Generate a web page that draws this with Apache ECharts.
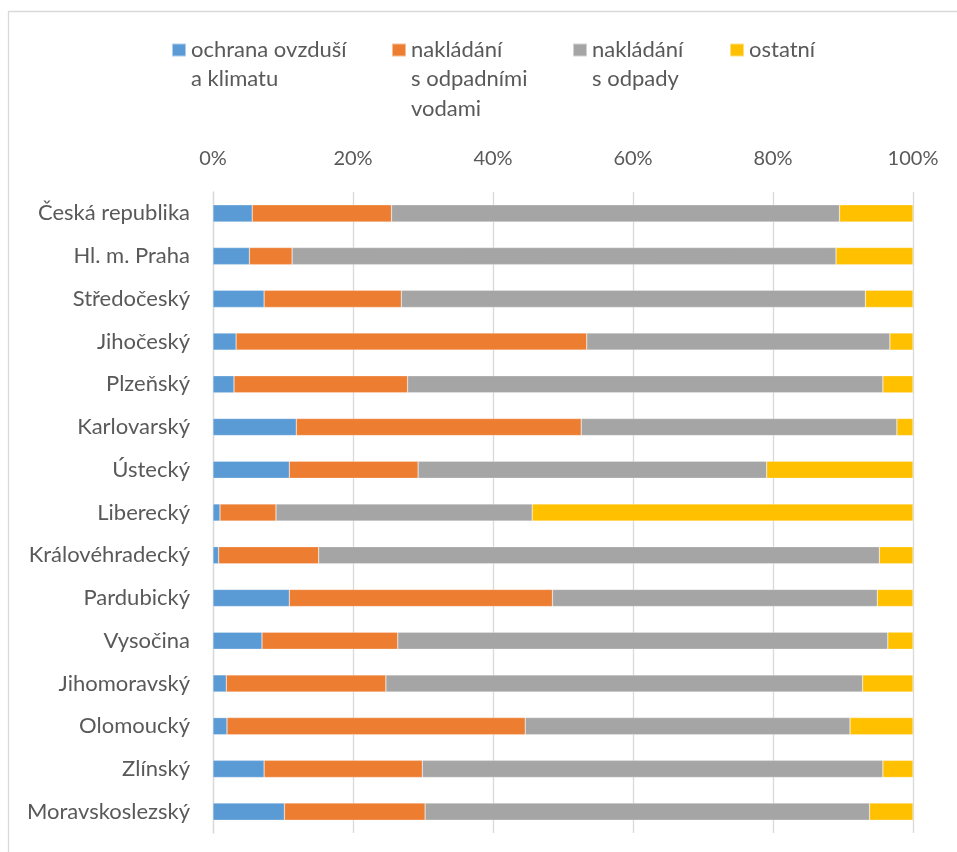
<!DOCTYPE html>
<html>
<head>
<meta charset="utf-8">
<script src="https://cdn.jsdelivr.net/npm/echarts@6/dist/echarts.min.js"></script>
<style>html,body{margin:0;padding:0;background:#fff}#c{width:957px;height:852px}</style>
</head>
<body>
<div id="c"></div>
<script>
const categories = ['Česká republika','Hl. m. Praha','Středočeský','Jihočeský','Plzeňský','Karlovarský','Ústecký','Liberecký','Královéhradecký','Pardubický','Vysočina','Jihomoravský','Olomoucký','Zlínský','Moravskoslezský'];
const seriesNames = ['ochrana ovzduší\na klimatu','nakládání\ns odpadními\nvodami','nakládání\ns odpady','ostatní'];
const ovzdusi = [5.6, 5.2, 7.3, 3.3, 3.0, 11.9, 10.9, 1.0, 0.8, 10.9, 7.0, 1.9, 2.0, 7.3, 10.2];
const vody    = [19.9, 6.1, 19.6, 50.1, 24.8, 40.7, 18.4, 8.0, 14.3, 37.6, 19.4, 22.8, 42.6, 22.6, 20.1];
const odpady  = [64.0, 77.7, 66.3, 43.3, 67.9, 45.1, 49.8, 36.6, 80.1, 46.4, 70.0, 68.1, 46.4, 65.8, 63.5];
const ostatni = [10.5, 11.0, 6.8, 3.3, 4.3, 2.3, 20.9, 54.4, 4.8, 5.1, 3.6, 7.2, 9.0, 4.3, 6.2];
const tickLabels = ['0%','20%','40%','60%','80%','100%'];
const colors = ['#5B9BD5','#ED7D31','#A5A5A5','#FFC000'];

const FONT = 'Lato';
const TXT = '#595959';
const values = [ovzdusi, vody, odpady, ostatni];

const legendLefts = [171, 391, 572, 729];
const LH = 29.3;
const ICON_CY = 50;
const legends = seriesNames.map((n, i) => {
  const lines = n.split('\n');
  const k = lines.length;
  const total = 2 * k - 1;
  return {
    data: [n],
    left: legendLefts[i],
    top: ICON_CY - total * LH / 2,
    padding: 0,
    itemWidth: 14,
    itemHeight: 13,
    icon: 'rect',
    selectedMode: false,
    formatter: () => {
      const spacer = [];
      for (let j = 0; j < k - 1; j++) spacer.push('{s| }');
      return spacer.concat(lines.map(l => '{t|' + l + '}')).join('\n');
    },
    textStyle: {
      fontFamily: FONT, fontSize: 22, color: TXT, lineHeight: LH,
      rich: {
        t: {fontFamily: FONT, fontSize: 22, color: TXT, lineHeight: LH},
        s: {fontFamily: FONT, fontSize: 22, color: TXT, lineHeight: LH}
      }
    }
  };
});

const chart = echarts.init(document.getElementById('c'));
chart.setOption({
  animation: false,
  backgroundColor: '#fff',
  graphic: [{
    type: 'rect', shape: {x: 8.5, y: 11.5, width: 1000, height: 1000},
    style: {fill: 'none', stroke: '#d9d9d9', lineWidth: 1.3}, silent: true, z: -1
  }],
  legend: legends,
  grid: {left: 213, right: 44, top: 192, bottom: 19, containLabel: false},
  xAxis: {
    type: 'value', position: 'top', min: 0, max: 100, interval: 20,
    axisLine: {show: false}, axisTick: {show: false},
    splitLine: {lineStyle: {color: '#d9d9d9', width: 1.3}},
    axisLabel: {
      margin: 23, fontFamily: FONT, fontSize: 20, color: TXT,
      formatter: v => tickLabels[Math.round(v / 20)]
    }
  },
  yAxis: {
    type: 'category', data: categories, inverse: true,
    axisLine: {show: true, lineStyle: {color: '#d9d9d9', width: 1.3}},
    axisTick: {show: false},
    axisLabel: {margin: 23, fontFamily: FONT, fontSize: 22, color: TXT}
  },
  series: seriesNames.map((n, i) => ({
    name: n, type: 'bar', stack: 'total', data: values[i],
    barWidth: '40%',
    itemStyle: {color: colors[i], borderColor: 'rgba(255,255,255,0.5)', borderWidth: 0.5}
  }))
});
</script>
</body>
</html>
